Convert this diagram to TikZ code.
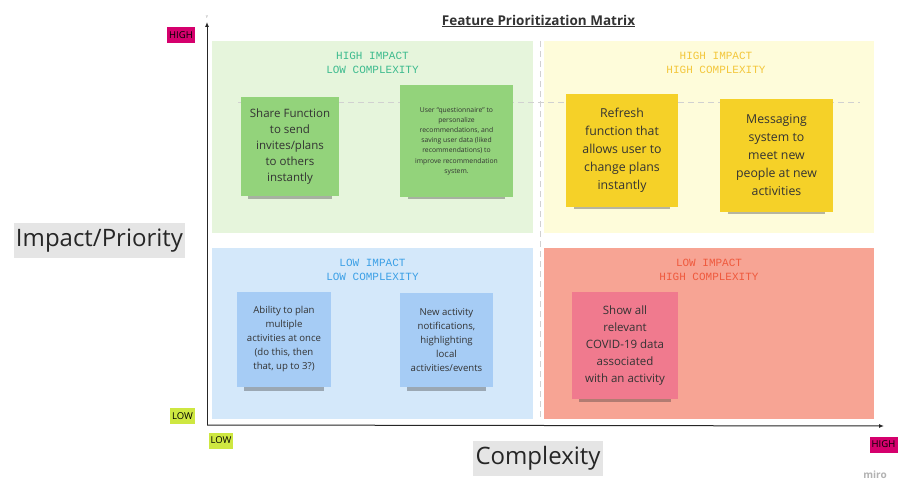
\documentclass[tikz,border=0pt]{standalone}
\usepackage{fontspec}
\setmainfont{Open Sans}
\newfontfamily\quadfont{Liberation Mono}
\usetikzlibrary{positioning,shadows,arrows.meta}

\definecolor{quadgreen}{HTML}{E6F5DC}
\definecolor{quadyellow}{HTML}{FEFCDA}
\definecolor{quadblue}{HTML}{D4E8FA}
\definecolor{quadred}{HTML}{F7A494}
\definecolor{labgreen}{HTML}{3DBB8E}
\definecolor{labyellow}{HTML}{F3C73C}
\definecolor{labblue}{HTML}{3CA0E6}
\definecolor{labred}{HTML}{EF5A3E}
\definecolor{notegreen}{HTML}{93D37B}
\definecolor{noteyellow}{HTML}{F5D128}
\definecolor{noteblue}{HTML}{A6CCF5}
\definecolor{notepink}{HTML}{F07A8E}
\definecolor{tagmagenta}{HTML}{D5006D}
\definecolor{taglime}{HTML}{CEE741}
\definecolor{inkgray}{HTML}{333333}

\tikzset{
    quad/.style={inner sep=0pt, anchor=center},
    quadlabel/.style={font=\quadfont\fontsize{11}{14}\selectfont, align=center, inner sep=0pt},
    note/.style={
        inner sep=0pt,
        align=center,
        text=inkgray,
        drop shadow={shadow xshift=0pt, shadow yshift=-12pt, shadow scale=0.86,
            opacity=0.35, fill=black!80}
    },
    tag/.style={inner sep=1pt, minimum height=16pt, font=\fontsize{9.5}{10}\selectfont, text=black},
    axisname/.style={fill=black!10, inner sep=0pt, minimum height=35pt, font=\fontsize{24}{26}\selectfont, text=black!85},
    guide/.style={black!18, dash pattern=on 6pt off 4pt, line width=0.8pt}
}

\begin{document}
\begin{tikzpicture}[x=1pt, y=-1pt]
\useasboundingbox[fill=white] (0,0) rectangle (911,500);

% quadrants
\node[quad, fill=quadgreen, minimum width=321pt, minimum height=192pt] (hilo) at (372.5,137) {};
\node[quad, fill=quadyellow, minimum width=330pt, minimum height=192pt] (hihi) at (709,137) {};
\node[quad, fill=quadblue, minimum width=321pt, minimum height=171pt] (lolo) at (372.5,333.5) {};
\node[quad, fill=quadred, minimum width=330pt, minimum height=171pt] (lohi) at (709,333.5) {};

% guides
\draw[guide] (540,41) -- (540,420);
\draw[guide] (238,102) -- (860,102);

\node[quadlabel, text=labgreen, below=11pt of hilo.north] (hilolab) {HIGH IMPACT\\LOW COMPLEXITY};
\node[quadlabel, text=labyellow, below=11pt of hihi.north, xshift=7pt] (hihilab) {HIGH IMPACT\\HIGH COMPLEXITY};
\node[quadlabel, text=labblue, below=11pt of lolo.north] (lololab) {LOW IMPACT\\LOW COMPLEXITY};
\node[quadlabel, text=labred, below=11pt of lohi.north] (lohilab) {LOW IMPACT\\HIGH COMPLEXITY};

% sticky notes
\node[note, fill=notegreen, minimum width=98pt, minimum height=99pt,
    font=\fontsize{11.5}{16}\selectfont] (share) at (290,146.5)
{Share Function\\to send\\invites/plans\\to others\\instantly};

\node[note, fill=notegreen, minimum width=113pt, minimum height=112pt,
    font=\fontsize{6.8}{10.2}\selectfont] (quest) at (456.5,141)
{User ``questionnaire'' to\\personalize\\recommendations, and\\saving user data (liked\\recommendations) to\\improve recommendation\\system.};

\node[note, fill=noteyellow, minimum width=112pt, minimum height=113pt,
    font=\fontsize{12.3}{18}\selectfont] (refresh) at (622,150.5)
{Refresh\\function that\\allows user to\\change plans\\instantly};

\node[note, fill=noteyellow, minimum width=113pt, minimum height=113pt,
    font=\fontsize{12.3}{18}\selectfont] (message) at (776.5,155.5)
{Messaging\\system to\\meet new\\people at new\\activities};

\node[note, fill=noteblue, minimum width=94pt, minimum height=95pt,
    font=\fontsize{9.6}{14}\selectfont] (ability) at (284,339.5)
{Ability to plan\\multiple\\activities at once\\(do this, then\\that, up to 3?)};

\node[note, fill=noteblue, minimum width=93pt, minimum height=94pt,
    font=\fontsize{9.6}{14}\selectfont] (newact) at (446.5,340)
{New activity\\notifications,\\highlighting\\local\\activities/events};

\node[note, fill=notepink, minimum width=106pt, minimum height=107pt,
    font=\fontsize{11.5}{16.8}\selectfont] (covid) at (625,345.5)
{Show all\\relevant\\COVID-19 data\\associated\\with an activity};

% axes
\coordinate (orig) at (207,425);
\coordinate (ytip) at (207,22);
\coordinate (xtip) at (884,426);
\draw[black!85, line width=1pt, -{Latex[length=5pt,width=4pt]}] (orig) -- (ytip);
\draw[black!85, line width=1pt, -{Latex[length=5pt,width=4pt]}] (orig) -- (xtip);
\node[above=3pt of ytip, inner sep=0pt, font=\fontsize{4}{4}\selectfont, text=black!45] (yname) {Y};

% axis tags
\node[tag, fill=tagmagenta, minimum width=28pt] (yhigh) at (181,35) {HIGH};
\node[tag, fill=taglime, minimum width=25pt] (ylow) at (182.5,416) {LOW};
\node[tag, fill=taglime, minimum width=24pt] (xlow) at (221,440.5) {LOW};
\node[tag, fill=tagmagenta, minimum width=28pt] (xhigh) at (883.5,444.5) {HIGH};

\node[axisname, minimum width=171pt] (impact) at (99.5,240.5) {Impact/Priority};
\node[axisname, minimum width=130pt] (complex) at (538,458) {Complexity};

\node[font=\bfseries\fontsize{13.5}{14}\selectfont, text=inkgray, inner sep=0pt] (title) at (538.5,21)
{\underline{Feature Prioritization Matrix}};

\node[font=\bfseries\fontsize{10}{10}\selectfont, text=black!30, inner sep=0pt] (miro) at (875,475) {miro};
\end{tikzpicture}
\end{document}
